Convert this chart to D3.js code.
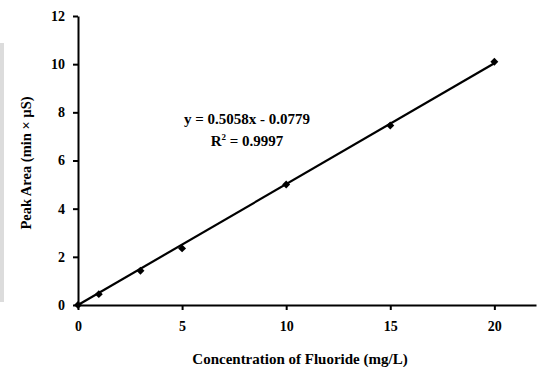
<!DOCTYPE html>
<html><head><meta charset="utf-8">
<script src="https://cdn.jsdelivr.net/npm/d3@7"></script>
<style>body{margin:0;background:#fff}svg{display:block}</style>
</head><body>
<svg id="c" width="537" height="367"></svg>
<script>
const concentrations = [0, 1, 3, 5, 10, 15, 20];
const peakAreas = [0, 0.45, 1.42, 2.35, 5.0, 7.45, 10.1];
const xTicks = [0, 5, 10, 15, 20];
const yTicks = [0, 2, 4, 6, 8, 10, 12];
const slope = 0.5058, intercept = -0.0779;

const svg = d3.select("#c");
const font = "'Liberation Serif','Times New Roman',serif";
const x = d3.scaleLinear().domain([0, 22]).range([78, 536]);
const y = d3.scaleLinear().domain([0, 12]).range([305, 16]);

svg.append("rect").attr("x", 0).attr("y", 43).attr("width", 4).attr("height", 259).attr("fill", "#dcdcdc");

const xa = svg.append("g").attr("transform", `translate(0,${y(0)})`)
  .call(d3.axisBottom(x).tickValues(xTicks).tickSize(5).tickSizeOuter(0).tickPadding(11));
const ya = svg.append("g").attr("transform", `translate(${x(0)},0)`)
  .call(d3.axisLeft(y).tickValues(yTicks).tickSize(5).tickSizeOuter(0).tickPadding(8));
[xa, ya].forEach(g => {
  g.select(".domain").attr("stroke", "#000").attr("stroke-width", 2);
  g.selectAll(".tick line").attr("stroke", "#000").attr("stroke-width", 2);
  g.selectAll(".tick text").attr("fill", "#000").style("font-family", font)
    .style("font-weight", "bold").style("font-size", "14px");
});

const fitX = d3.extent(concentrations);
svg.append("line")
  .attr("x1", x(fitX[0])).attr("y1", y(Math.max(0, slope * fitX[0] + intercept)))
  .attr("x2", x(fitX[1])).attr("y2", y(slope * fitX[1] + intercept))
  .attr("stroke", "#000").attr("stroke-width", 2.2);

svg.selectAll("path.pt").data(concentrations).join("path").attr("class", "pt")
  .attr("d", d3.symbol(d3.symbolDiamond2, 40))
  .attr("transform", (d, i) => `translate(${x(d)},${y(peakAreas[i])})`)
  .attr("fill", "#000");

const eq = svg.append("text").attr("x", 247).attr("y", 124).attr("text-anchor", "middle")
  .style("font-family", font).style("font-weight", "bold").style("font-size", "15px")
  .text("y = 0.5058x - 0.0779");
const r2 = svg.append("text").attr("x", 247).attr("y", 146).attr("text-anchor", "middle")
  .style("font-family", font).style("font-weight", "bold").style("font-size", "15px");
r2.append("tspan").text("R");
r2.append("tspan").attr("dy", -6).style("font-size", "9px").text("2");
r2.append("tspan").attr("dy", 6).text(" = 0.9997");

svg.append("text").attr("x", 300).attr("y", 364).attr("text-anchor", "middle")
  .style("font-family", font).style("font-weight", "bold").style("font-size", "15px")
  .text("Concentration of Fluoride (mg/L)");
svg.append("text").attr("transform", "translate(31,163) rotate(-90)").attr("text-anchor", "middle")
  .style("font-family", font).style("font-weight", "bold").style("font-size", "14.5px")
  .text("Peak Area (min × µS)");
</script>
</body></html>
